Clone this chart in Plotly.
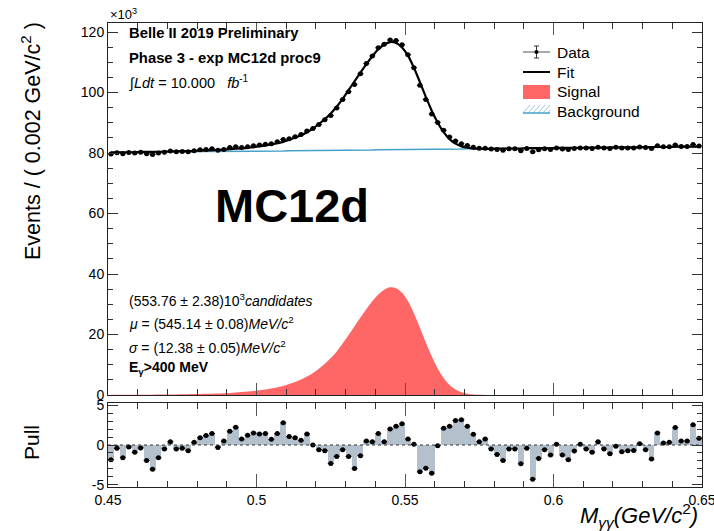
import numpy as np
import plotly.graph_objects as go

# ---------------- data (values in units of 10^3 events) ----------------
bin_edges = np.linspace(0.45, 0.65, 101)
bin_centers = 0.5 * (bin_edges[:-1] + bin_edges[1:])

signal = [0.05, 0.05, 0.06, 0.07, 0.08, 0.09, 0.10, 0.11, 0.13, 0.15,
          0.17, 0.19, 0.22, 0.25, 0.29, 0.33, 0.38, 0.44, 0.51, 0.60,
          0.70, 0.82, 0.96, 1.12, 1.32, 1.55, 1.82, 2.15, 2.55, 3.0,
          3.6, 4.3, 5.1, 6.1, 7.3, 8.7, 10.3, 12.2, 14.4, 17.0,
          19.8, 22.7, 25.6, 28.4, 31.0, 33.2, 34.8, 35.6, 35.3, 33.8,
          31.0, 27.0, 22.3, 17.4, 12.8, 8.8, 5.6, 3.3, 1.8, 0.9,
          0.4, 0.15, 0.05, 0, 0, 0, 0, 0, 0, 0,
          0, 0, 0, 0, 0, 0, 0, 0, 0, 0,
          0, 0, 0, 0, 0, 0, 0, 0, 0, 0,
          0, 0, 0, 0, 0, 0, 0, 0, 0, 0]

background = ([80.2] * 5 + [80.3] * 5 + [80.4] * 5 + [80.5] * 5 + [80.6] * 5 +
              [80.7] * 5 + [80.8] * 5 + [80.9] * 5 + [81.0] * 5 + [81.1] * 5 +
              [81.2] * 5 + [81.3] * 5 + [81.4] * 5 + [81.5] * 5 + [81.6] * 5 +
              [81.7] * 5 + [81.8] * 5 + [81.9] * 5 + [82.0] * 5 + [82.1] * 5)

data = [79.7, 80.1, 79.8, 80.2, 80.0, 80.3, 79.8, 79.5, 80.0, 80.3,
        80.7, 80.4, 80.5, 80.4, 80.8, 81.1, 81.2, 81.4, 80.9, 81.2,
        81.8, 82.1, 81.8, 82.1, 82.4, 82.7, 82.9, 83.1, 83.7, 84.5,
        84.7, 85.4, 86.1, 87.3, 88.1, 89.4, 91.0, 92.4, 94.9, 97.7,
        100.3, 102.7, 106.2, 109.6, 112.1, 114.8, 116.0, 117.4, 117.2, 115.8,
        112.5, 108.2, 102.4, 97.7, 92.9, 90.1, 87.5, 85.3, 84.0, 83.1,
        82.5, 81.9, 81.6, 81.6, 81.3, 81.2, 80.9, 81.4, 81.4, 80.8,
        81.5, 80.4, 81.1, 81.4, 81.2, 81.7, 81.3, 81.2, 81.5, 81.7,
        81.7, 81.5, 81.9, 81.7, 81.5, 81.9, 81.7, 81.7, 81.7, 82.0,
        81.8, 81.5, 82.4, 82.1, 82.1, 82.7, 82.2, 82.2, 82.8, 82.3]

pulls = [-1.86, -0.42, -1.6, -0.25, -0.93, -0.38, -1.95, -3.05, -1.6, -0.5,
         0.42, -0.5, -0.42, -0.72, 0.34, 0.93, 1.19, 1.44, -0.3, 0.5,
         1.74, 2.25, 0.76, 1.23, 1.53, 1.4, 1.44, 0.72, 1.44, 2.8,
         1.06, 0.93, 0.6, 1.4, 0.0, -0.6, -0.72, -2.33, -1.44, -0.6,
         -1.44, -2.97, -1.36, 0.5, 0.42, 1.44, 0.42, 2.03, 2.37, 2.67,
         0.76, 0.08, -3.39, -2.92, -3.56, -0.08, 2.12, 2.37, 3.09, 3.18,
         2.37, 1.36, 0.42, 0.76, -0.5, -1.19, -1.95, -0.5, -0.5, -2.37,
         -0.42, -4.32, -1.69, -0.6, -1.27, 0.08, -1.27, -1.86, -0.76, 0.08,
         -0.5, -0.93, 0.42, -0.5, -1.1, -0.17, -0.85, -0.72, -0.68, 0.17,
         -0.6, -1.78, 1.53, 0.25, 0.34, 2.2, 0.5, 0.5, 2.54, 0.85]

x_ticks = [0.45, 0.5, 0.55, 0.6, 0.6499999]
x_tick_labels = ["0.45", "0.5", "0.55", "0.6", "0.65"]
y_ticks = [0, 20, 40, 60, 80, 100, 120]
pull_ticks = [-5, 0, 5]

fit = [b + s for b, s in zip(background, signal)]
data_err = [np.sqrt(d * 1000.0) / 1000.0 for d in data]

# ---------------- styling ----------------
FONT = "Liberation Sans, Arial, Helvetica, sans-serif"
RED = "rgb(255,102,102)"
BLUE = "rgb(70,160,200)"
PULLC = "rgb(180,193,204)"
W, H = 714, 531
L, R, T, B = 108, 12, 23, 44
PW, PH = W - L - R, H - T - B


def px(x):
    return (x - L) / PW


def py(y):
    return (H - B - y) / PH


main_dom = [py(395), 1.0]
pull_dom = [0.0, py(403)]

fig = go.Figure()

fig.add_trace(go.Scatter(x=bin_centers, y=signal, mode="lines", fill="tozeroy",
                         fillcolor=RED, line=dict(color=RED, width=0, shape="spline"),
                         xaxis="x2", yaxis="y2", showlegend=False))
fig.add_trace(go.Scatter(x=bin_centers, y=background, mode="lines",
                         line=dict(color=BLUE, width=1.5),
                         xaxis="x2", yaxis="y2", showlegend=False))
fig.add_trace(go.Scatter(x=bin_centers, y=fit, mode="lines",
                         line=dict(color="black", width=2.2, shape="spline"),
                         xaxis="x2", yaxis="y2", showlegend=False))
fig.add_trace(go.Scatter(x=bin_centers, y=data, mode="markers",
                         marker=dict(color="black", size=5),
                         error_y=dict(type="data", array=data_err, color="black", thickness=1, width=0),
                         error_x=dict(type="constant", value=0.001, color="black", thickness=1, width=0),
                         xaxis="x2", yaxis="y2", showlegend=False))

# pull panel
fig.add_trace(go.Bar(x=bin_centers, y=pulls, width=0.002, marker=dict(color=PULLC, line=dict(width=0)),
                     xaxis="x", yaxis="y", showlegend=False))
fig.add_trace(go.Scatter(x=bin_centers, y=pulls, mode="markers",
                         marker=dict(color="black", size=5),
                         error_x=dict(type="constant", value=0.001, color="black", thickness=1, width=0),
                         xaxis="x", yaxis="y", showlegend=False))

axis_common = dict(showline=True, linecolor="#222", linewidth=1, mirror="allticks",
                   ticks="inside", showgrid=False, zeroline=False, automargin=False,
                   ticklabeloverflow="allow",
                   tickfont=dict(family=FONT, size=14, color="black"))

fig.update_layout(
    width=W, height=H,
    margin=dict(l=L, r=R, t=T, b=B),
    paper_bgcolor="white", plot_bgcolor="white",
    bargap=0,
    font=dict(family=FONT, color="black"),
    xaxis=dict(domain=[0, 1], anchor="y", range=[0.45, 0.65],
               tickvals=x_ticks, ticktext=x_tick_labels, ticklen=13, tickcolor="#555",
               minor=dict(ticks="inside", dtick=0.01, tick0=0.45, ticklen=6, tickcolor="#333"),
               **axis_common),
    xaxis2=dict(domain=[0, 1], anchor="y2", range=[0.45, 0.65], matches="x",
                tickvals=x_ticks, showticklabels=False, ticklen=12, tickcolor="#555",
                minor=dict(ticks="inside", dtick=0.01, tick0=0.45, ticklen=6, tickcolor="#333"),
                **axis_common),
    yaxis=dict(domain=pull_dom, anchor="x", range=[-5.3, 5.3],
               tickvals=pull_ticks, ticktext=["-5", "0", "5"], ticklen=10, tickcolor="#333",
               minor=dict(ticks="inside", dtick=1, tick0=0, ticklen=5, tickcolor="#333"),
               **axis_common),
    yaxis2=dict(domain=main_dom, anchor="x2", range=[0, 123],
                tickvals=y_ticks, ticklen=10, tickcolor="#333",
                minor=dict(ticks="inside", dtick=5, tick0=0, ticklen=5, tickcolor="#333"),
                **axis_common),
)

# zero line in pull panel
fig.add_shape(type="line", xref="x", yref="y", x0=0.45, x1=0.65, y0=0, y1=0,
              line=dict(color="#333", width=1, dash="dot"))

ann = []


def text(x, y, s, size, xanchor="left", yanchor="middle", angle=0):
    ann.append(dict(x=px(x), y=py(y), xref="paper", yref="paper", text=s, showarrow=False,
                    xanchor=xanchor, yanchor=yanchor, textangle=angle,
                    font=dict(family=FONT, size=size, color="black")))


text(108, 14, "×10<sup>3</sup>", 13)
text(127, 33, "<b>Belle II 2019 Preliminary</b>", 14.8)
text(127, 58, "<b>Phase 3 - exp MC12d proc9</b>", 14.8)
text(127, 82, "∫<i>Ldt</i> = 10.000   <i>fb</i><sup>-1</sup>", 14.5)
text(292, 205, "<b>MC12d</b>", 47, xanchor="center")
text(127, 300, "(553.76 ± 2.38)10<sup>3</sup><i>candidates</i>", 14)
text(127, 323, "<i>μ</i> = (545.14 ± 0.08)<i>MeV/c</i><sup>2</sup>", 14)
text(127, 347, "<i>σ</i> = (12.38 ± 0.05)<i>MeV/c</i><sup>2</sup>", 14)
text(127, 368, "<b>E<sub>γ</sub>&gt;400 MeV</b>", 14)

# axis titles
text(31, 20, "Events / ( 0.002 GeV/c<sup>2</sup> )", 21.5, xanchor="center", yanchor="top", angle=-90)
text(31, 443, "Pull", 21, xanchor="center", angle=-90)
text(700, 515, "<i>M<sub>γγ</sub>(GeV/c</i><sup>2</sup><i>)</i>", 22, xanchor="right")

# legend (manual, ROOT style)
leg_x0, leg_x1, leg_tx = 523, 550, 555
rows = [52, 72, 92, 112]
names = ["Data", "Fit", "Signal", "Background"]
for yrow, nm in zip(rows, names):
    text(leg_tx, yrow, nm, 15.5)

shapes = []


def pline(x0, y0, x1, y1, color, width):
    shapes.append(dict(type="line", xref="paper", yref="paper", x0=px(x0), y0=py(y0),
                       x1=px(x1), y1=py(y1), line=dict(color=color, width=width)))


# Data symbol
cx = (leg_x0 + leg_x1) / 2
pline(leg_x0, rows[0], leg_x1, rows[0], "#555", 1)
pline(cx, rows[0] - 6, cx, rows[0] + 6, "#333", 1)
pline(cx - 2.5, rows[0] - 6, cx + 2.5, rows[0] - 6, "#333", 1)
pline(cx - 2.5, rows[0] + 6, cx + 2.5, rows[0] + 6, "#333", 1)
shapes.append(dict(type="circle", xref="paper", yref="paper",
                   x0=px(cx - 2), x1=px(cx + 2),
                   y0=py(rows[0] + 2), y1=py(rows[0] - 2), fillcolor="black", line=dict(width=0)))
# Fit symbol
pline(leg_x0, rows[1], leg_x1, rows[1], "black", 2)
# Signal symbol
shapes.append(dict(type="rect", xref="paper", yref="paper", x0=px(leg_x0), x1=px(leg_x1),
                   y0=py(rows[2] + 7), y1=py(rows[2] - 7), fillcolor=RED, line=dict(width=0)))
# Background symbol: hatch + line
for k in range(6):
    xs = leg_x0 + k * 5
    pline(xs, rows[3] + 1, min(xs + 7, leg_x1), rows[3] - 7 + max(0, xs + 7 - leg_x1), "rgb(150,200,225)", 1)
pline(leg_x0, rows[3] + 1, leg_x1, rows[3] + 1, BLUE, 1.5)

fig.update_layout(annotations=ann, shapes=fig.layout.shapes + tuple(shapes))

fig.write_html("out.html")
